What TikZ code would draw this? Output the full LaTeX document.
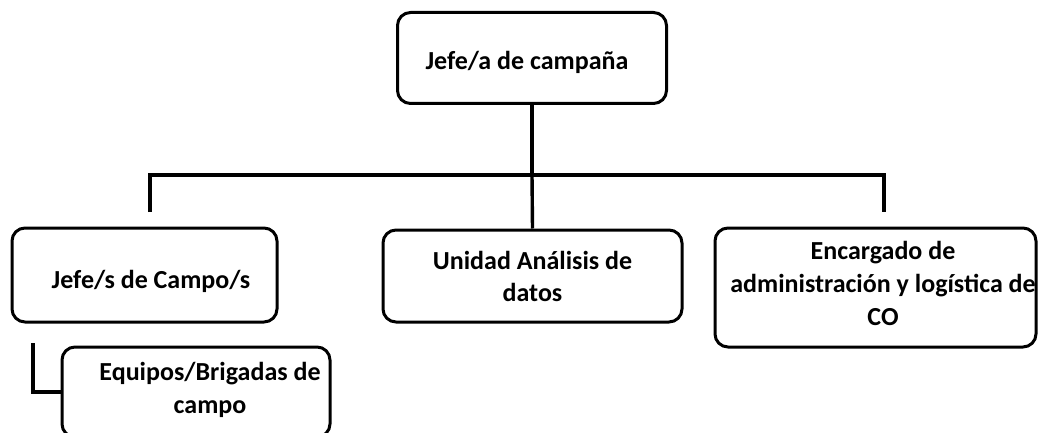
\documentclass[tikz,border=0pt]{standalone}
\usepackage{fontspec}
\setmainfont{Carlito}
\begin{document}
\begin{tikzpicture}[x=1pt,y=-1pt,
  box/.style={draw, line width=3pt, rounded corners=13pt, font=\bfseries\fontsize{26}{32}\selectfont, align=center, inner sep=0pt},
  lbl/.style={font=\bfseries\fontsize{26}{33}\selectfont, align=center, inner sep=0pt},
  conn/.style={line width=3.4pt}]
\useasboundingbox (0,0) rectangle (1039,433);
\clip (0,0) rectangle (1039,433);
\node[box, minimum width=269pt, minimum height=91pt] (top) at (532,58) {};
\node[lbl] (topt) at (527,62) {Jefe/a de campaña};
\node[box, minimum width=265pt, minimum height=94pt] (left) at (144.5,275) {};
\node[lbl] (leftt) at (151,281) {Jefe/s de Campo/s};
\node[box, minimum width=299pt, minimum height=92pt] (mid) at (532.5,276) {Unidad Análisis de\\datos};
\node[box, minimum width=321pt, minimum height=119pt] (right) at (875.5,287.5) {};
\node[lbl] (rightt) at (883,283) {Encargado de\\administración y logística de\\CO};
\node[box, minimum width=268pt, minimum height=90pt] (sub) at (196,392) {};
\node[lbl] (subt) at (210,390) {Equipos/Brigadas de\\campo};
\coordinate (hub) at (532,175);
\coordinate (hl) at (150,175);
\coordinate (hr) at (884,175);
\coordinate (dl) at (150,212);
\coordinate (dr) at (884,212);
\coordinate (bt) at (33,343);
\draw[conn] (top.south) -- (hub);
\draw[conn] (dl) -- (hl) -- (hr) -- (dr);
\draw[conn] (hub) -- (mid.north);
\draw[conn] (bt) |- (sub.west);
\end{tikzpicture}
\end{document}
